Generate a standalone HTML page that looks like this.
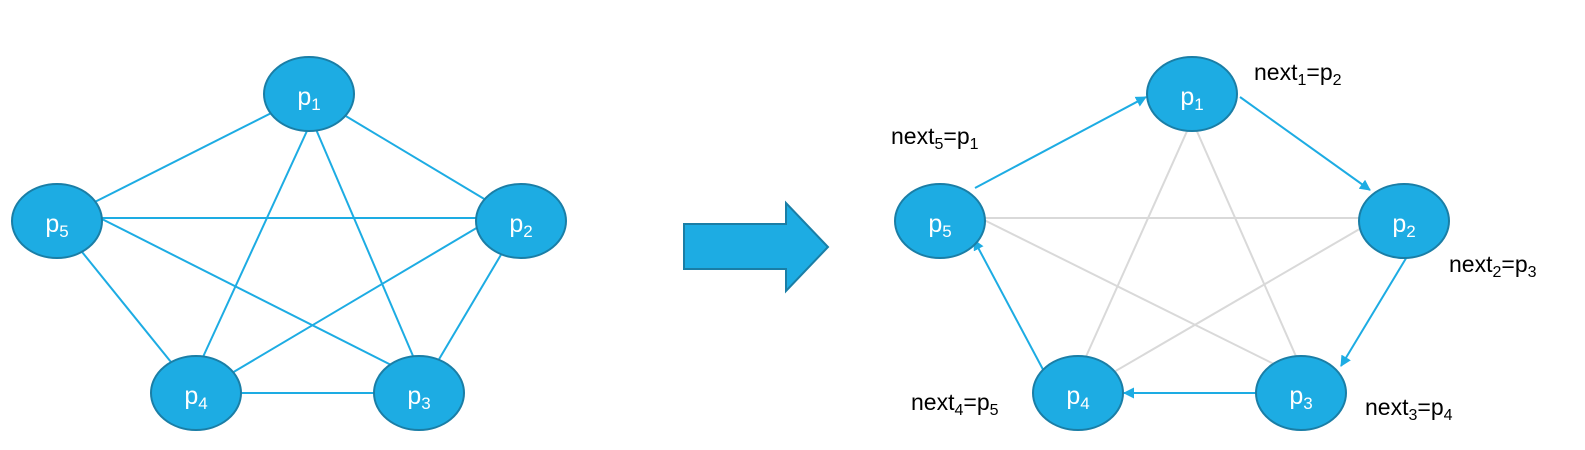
<!DOCTYPE html>
<html><head><meta charset="utf-8"><style>
html,body{margin:0;padding:0;background:#fff;}
svg{display:block;}
.n{font-family:"Liberation Sans",sans-serif;font-size:25px;fill:#fff;text-anchor:middle;}
.l{font-family:"Liberation Sans",sans-serif;font-size:23px;fill:#000;}
</style></head><body>
<svg width="1585" height="450" viewBox="0 0 1585 450" xmlns="http://www.w3.org/2000/svg">
<defs>
<marker id="ah" markerWidth="11" markerHeight="11" refX="10" refY="5.5" orient="auto" markerUnits="userSpaceOnUse">
<path d="M0,0 L11,5.5 L0,11 z" fill="#1DACE3"/></marker>
</defs>
<g stroke="#1DACE3" stroke-width="2">
<line x1="309" y1="94" x2="521" y2="221"/><line x1="309" y1="94" x2="57" y2="221"/>
<line x1="312" y1="120" x2="419" y2="370"/><line x1="312" y1="120" x2="197" y2="370"/>
<line x1="90" y1="218" x2="490" y2="218"/><line x1="90" y1="213" x2="405" y2="372"/>
<line x1="57" y1="221" x2="196" y2="393"/><line x1="490" y1="220" x2="215" y2="383"/>
<line x1="521" y1="221" x2="419" y2="393"/><line x1="196" y1="393" x2="419" y2="393"/>
</g>
<g stroke="#D9D9D9" stroke-width="2">
<line x1="1192" y1="120" x2="1302" y2="370"/><line x1="1192" y1="120" x2="1080" y2="370"/>
<line x1="970" y1="218" x2="1375" y2="218"/><line x1="970" y1="213" x2="1290" y2="372"/>
<line x1="1375" y1="220" x2="1095" y2="383"/>
</g>
<g stroke="#1DACE3" stroke-width="2" marker-end="url(#ah)">
<line x1="975" y1="188" x2="1146" y2="97"/>
<line x1="1240" y1="97" x2="1370" y2="190"/>
<line x1="1408" y1="255" x2="1341" y2="366"/>
<line x1="1257" y1="393" x2="1124" y2="393"/>
<line x1="1047" y1="377" x2="974" y2="240"/>
</g>
<g fill="#1DACE3" stroke="#1A7EA6" stroke-width="2">
<ellipse cx="309" cy="94" rx="45" ry="37"/><ellipse cx="521" cy="221" rx="45" ry="37"/>
<ellipse cx="419" cy="393" rx="45" ry="37"/><ellipse cx="196" cy="393" rx="45" ry="37"/>
<ellipse cx="57" cy="221" rx="45" ry="37"/>
<ellipse cx="1192" cy="94" rx="45" ry="37"/><ellipse cx="1404" cy="221" rx="45" ry="37"/>
<ellipse cx="1301" cy="393" rx="45" ry="37"/><ellipse cx="1078" cy="393" rx="45" ry="37"/>
<ellipse cx="940" cy="221" rx="45" ry="37"/>
<path d="M684,224 L786,224 L786,203 L828,247 L786,291 L786,269 L684,269 Z"/>
</g>
<g class="n">
<text x="309" y="105">p<tspan font-size="17" dy="5">1</tspan></text>
<text x="521" y="232">p<tspan font-size="17" dy="5">2</tspan></text>
<text x="419" y="404">p<tspan font-size="17" dy="5">3</tspan></text>
<text x="196" y="404">p<tspan font-size="17" dy="5">4</tspan></text>
<text x="57" y="232">p<tspan font-size="17" dy="5">5</tspan></text>
<text x="1192" y="105">p<tspan font-size="17" dy="5">1</tspan></text>
<text x="1404" y="232">p<tspan font-size="17" dy="5">2</tspan></text>
<text x="1301" y="404">p<tspan font-size="17" dy="5">3</tspan></text>
<text x="1078" y="404">p<tspan font-size="17" dy="5">4</tspan></text>
<text x="940" y="232">p<tspan font-size="17" dy="5">5</tspan></text>
</g>
<g class="l">
<text x="1254" y="80">next<tspan font-size="16" dy="5">1</tspan><tspan dy="-5">=p</tspan><tspan font-size="16" dy="5">2</tspan></text>
<text x="891" y="144">next<tspan font-size="16" dy="5">5</tspan><tspan dy="-5">=p</tspan><tspan font-size="16" dy="5">1</tspan></text>
<text x="1449" y="272">next<tspan font-size="16" dy="5">2</tspan><tspan dy="-5">=p</tspan><tspan font-size="16" dy="5">3</tspan></text>
<text x="1365" y="415">next<tspan font-size="16" dy="5">3</tspan><tspan dy="-5">=p</tspan><tspan font-size="16" dy="5">4</tspan></text>
<text x="911" y="410">next<tspan font-size="16" dy="5">4</tspan><tspan dy="-5">=p</tspan><tspan font-size="16" dy="5">5</tspan></text>
</g>
</svg>
</body></html>
